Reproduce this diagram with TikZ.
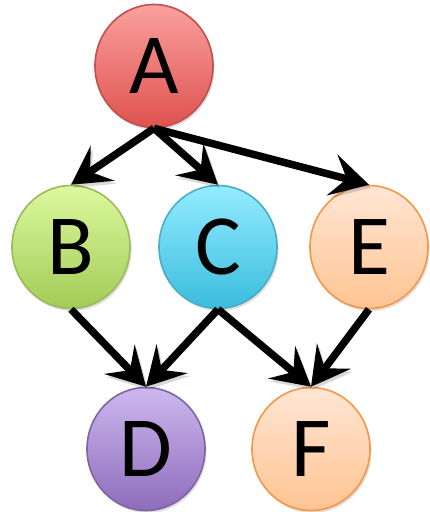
\documentclass[tikz,border=0pt]{standalone}
\usepackage{fontspec}
\setmainfont{Carlito}
\usepackage{tikz}
\usetikzlibrary{arrows.meta,shapes.geometric,shadows}
\usepackage{xcolor}
% fill colours (top, bottom) and rims
\definecolor{redtop}{RGB}{250,160,158}
\definecolor{redbot}{RGB}{222,82,78}
\definecolor{redrim}{RGB}{192,80,77}
\definecolor{greentop}{RGB}{220,248,158}
\definecolor{greenbot}{RGB}{162,204,86}
\definecolor{greenrim}{RGB}{155,187,89}
\definecolor{cyantop}{RGB}{148,236,255}
\definecolor{cyanbot}{RGB}{58,188,222}
\definecolor{cyanrim}{RGB}{75,172,198}
\definecolor{peachtop}{RGB}{255,230,212}
\definecolor{peachbot}{RGB}{255,196,146}
\definecolor{peachrim}{RGB}{247,150,70}
\definecolor{violettop}{RGB}{204,184,238}
\definecolor{violetbot}{RGB}{142,108,188}
\definecolor{violetrim}{RGB}{128,100,162}

\tikzset{
  vertex/.style n args={3}{ellipse, minimum width=118bp, minimum height=123bp,
    inner sep=0pt, line width=1.6bp, draw=#3, top color=#1, bottom color=#2,
    drop shadow={opacity=0.25, shadow xshift=1.5bp, shadow yshift=-2.5bp},
    font=\fontsize{86}{86}\selectfont},
  link/.style={line width=7.5bp, -{Stealth[length=38bp, width=42bp, inset=15bp]},
    preaction={draw=black, opacity=0.15, transform canvas={shift={(2bp,-3bp)}}}}
}

\begin{document}
\begin{tikzpicture}[x=1bp, y=-1bp]
  \useasboundingbox (0,0) rectangle (429,512);
  % vertices (pixel coordinates, y down)
  \node[vertex={redtop}{redbot}{redrim}]          (A) at (154,66)  {A};
  \node[vertex={greentop}{greenbot}{greenrim}]    (B) at (71,247)  {B};
  \node[vertex={cyantop}{cyanbot}{cyanrim}]       (C) at (218,247) {C};
  \node[vertex={peachtop}{peachbot}{peachrim}]    (E) at (369,247) {E};
  \node[vertex={violettop}{violetbot}{violetrim}] (D) at (146,449) {D};
  \node[vertex={peachtop}{peachbot}{peachrim}]    (F) at (311,449) {F};
  % edges, bottom of one vertex to top of the next
  \foreach \s/\t in {A/B, A/C, A/E, B/D, C/D, C/F, E/F}
    \draw[link] (\s.south) -- (\t.north);
\end{tikzpicture}
\end{document}
